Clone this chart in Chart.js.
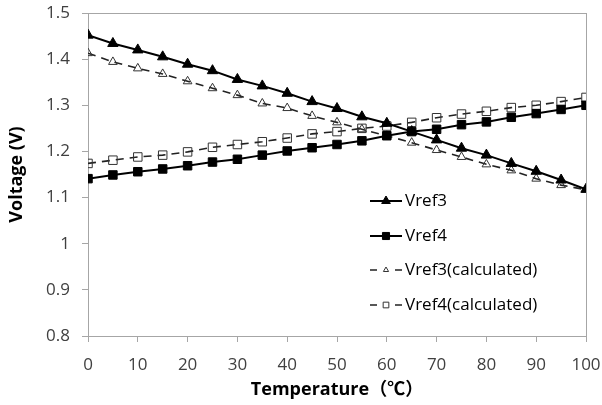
<!DOCTYPE html>
<html>
<head>
<meta charset="utf-8">
<script src="https://cdn.jsdelivr.net/npm/chart.js@4.4.1/dist/chart.umd.min.js"></script>
<style>
  html, body { margin: 0; padding: 0; background: #fff; }
  #wrap { width: 602px; height: 405px; }
</style>
</head>
<body>
<div id="wrap"><canvas id="chart" width="602" height="405"></canvas></div>
<script>
// Temperature (deg C) every 5 degrees
const temps = [0, 5, 10, 15, 20, 25, 30, 35, 40, 45, 50, 55, 60, 65, 70, 75, 80, 85, 90, 95, 100];

// Measured
const vref3 = [1.452, 1.434, 1.420, 1.405, 1.389, 1.375, 1.356, 1.342, 1.326, 1.308, 1.293,
               1.275, 1.261, 1.243, 1.225, 1.207, 1.192, 1.174, 1.157, 1.138, 1.118];
const vref4 = [1.141, 1.149, 1.156, 1.162, 1.169, 1.177, 1.183, 1.192, 1.201, 1.208, 1.215,
               1.223, 1.234, 1.243, 1.248, 1.258, 1.264, 1.274, 1.282, 1.291, 1.300];

// Calculated
const vref3Calc = [1.413, 1.394, 1.380, 1.368, 1.352, 1.337, 1.322, 1.304, 1.294, 1.277, 1.263,
                   1.248, 1.234, 1.219, 1.203, 1.188, 1.172, 1.159, 1.141, 1.127, 1.117];
const vref4Calc = [1.174, 1.181, 1.188, 1.192, 1.199, 1.209, 1.215, 1.221, 1.229, 1.238, 1.243,
                   1.250, 1.255, 1.263, 1.273, 1.281, 1.287, 1.295, 1.300, 1.308, 1.317];

const seriesNames = ['Vref3', 'Vref4', 'Vref3(calculated)', 'Vref4(calculated)'];

const FONT = "'Open Sans', 'Noto Sans CJK SC', sans-serif";

function toXY(values) {
    return temps.map((t, i) => ({ x: t, y: values[i] }));
}

// Frame around the plot area
const frame = {
    id: 'frame',
    beforeDatasetsDraw(chart) {
        const { ctx, chartArea: a } = chart;
        ctx.save();
        ctx.strokeStyle = '#a6a6a6';
        ctx.lineWidth = 1;
        ctx.strokeRect(a.left + 0.5, a.top + 0.5, a.right - a.left, a.bottom - a.top);
        ctx.restore();
    }
};

// Legend drawn inside the plot area, lower right
const insideLegend = {
    id: 'insideLegend',
    afterDraw(chart) {
        const { ctx } = chart;
        const x0 = 370, lineLen = 32, textX = 405;
        const rows = [201, 236, 270, 305];
        ctx.save();
        chart.data.datasets.forEach((ds, i) => {
            const y = rows[i];
            const dashed = !!ds.borderDash;
            ctx.strokeStyle = ds.borderColor;
            ctx.lineWidth = ds.borderWidth;
            ctx.beginPath();
            if (dashed) {
                ctx.moveTo(x0, y); ctx.lineTo(x0 + 7, y);
                ctx.moveTo(x0 + lineLen - 7, y); ctx.lineTo(x0 + lineLen, y);
            } else {
                ctx.moveTo(x0, y); ctx.lineTo(x0 + lineLen, y);
            }
            ctx.stroke();
            ctx.fillStyle = dashed ? '#fff' : ds.pointBackgroundColor;
            ctx.strokeStyle = ds.pointBorderColor;
            ctx.lineWidth = ds.pointBorderWidth;
            Chart.helpers.drawPoint(ctx, {
                pointStyle: ds.pointStyle,
                radius: dashed ? ds.pointRadius - 2 : ds.pointRadius - 1,
                rotation: 0,
                borderWidth: ds.pointBorderWidth
            }, x0 + lineLen / 2, y);
            ctx.fillStyle = '#000';
            ctx.font = '17px ' + FONT;
            ctx.textBaseline = 'middle';
            ctx.textAlign = 'left';
            ctx.fillText(ds.label, textX, y);
        });
        ctx.restore();
    }
};

new Chart(document.getElementById('chart'), {
    type: 'line',
    data: {
        datasets: [
            {
                label: seriesNames[0],
                data: toXY(vref3),
                borderColor: '#000',
                borderWidth: 2,
                pointStyle: 'triangle',
                pointRadius: 6,
                pointBackgroundColor: '#000',
                pointBorderColor: '#000',
                pointBorderWidth: 1
            },
            {
                label: seriesNames[1],
                data: toXY(vref4),
                borderColor: '#000',
                borderWidth: 2,
                pointStyle: 'rect',
                pointRadius: 6,
                pointBackgroundColor: '#000',
                pointBorderColor: '#000',
                pointBorderWidth: 1
            },
            {
                label: seriesNames[2],
                data: toXY(vref3Calc),
                borderColor: '#222',
                borderWidth: 1.6,
                borderDash: [8, 6],
                pointStyle: 'triangle',
                pointRadius: 5,
                pointBackgroundColor: 'rgba(255,255,255,0)',
                pointBorderColor: '#333',
                pointBorderWidth: 1
            },
            {
                label: seriesNames[3],
                data: toXY(vref4Calc),
                borderColor: '#222',
                borderWidth: 1.6,
                borderDash: [8, 6],
                pointStyle: 'rect',
                pointRadius: 6,
                pointBackgroundColor: 'rgba(255,255,255,0)',
                pointBorderColor: '#333',
                pointBorderWidth: 1
            }
        ]
    },
    options: {
        responsive: false,
        animation: false,
        layout: { padding: { left: 0, right: 16, top: 13, bottom: 0 } },
        plugins: {
            legend: { display: false },
            tooltip: { enabled: false }
        },
        scales: {
            x: {
                type: 'linear',
                min: 0,
                max: 100,
                ticks: {
                    stepSize: 10,
                    color: '#404040',
                    font: { family: FONT, size: 17, lineHeight: 2 },
                    padding: 6,
                    maxRotation: 0
                },
                grid: {
                    drawOnChartArea: false,
                    tickLength: 6,
                    color: '#a6a6a6'
                },
                border: { color: '#a6a6a6' },
                title: {
                    display: true,
                    text: 'Temperature（℃）',
                    color: '#000',
                    font: { family: FONT, size: 18, weight: 'bold' },
                    padding: { top: 0, bottom: 4 }
                },
                afterFit(scale) {
                    scale.height = 69;
                    scale.paddingLeft = 0;
                    scale.paddingRight = 0;
                }
            },
            y: {
                min: 0.8,
                max: 1.5,
                ticks: {
                    stepSize: 0.1,
                    color: '#404040',
                    font: { family: FONT, size: 17 },
                    padding: 12,
                    callback: v => String(Number(v.toFixed(1)))
                },
                grid: {
                    drawOnChartArea: false,
                    tickLength: 6,
                    color: '#a6a6a6'
                },
                border: { color: '#a6a6a6' },
                title: {
                    display: true,
                    text: 'Voltage (V)',
                    color: '#000',
                    font: { family: FONT, size: 18, weight: 'bold' },
                    padding: { top: 6, bottom: 0 }
                },
                afterFit(scale) {
                    scale.width = 88;
                    scale.paddingTop = 0;
                    scale.paddingBottom = 0;
                }
            }
        }
    },
    plugins: [frame, insideLegend]
});
</script>
</body>
</html>
